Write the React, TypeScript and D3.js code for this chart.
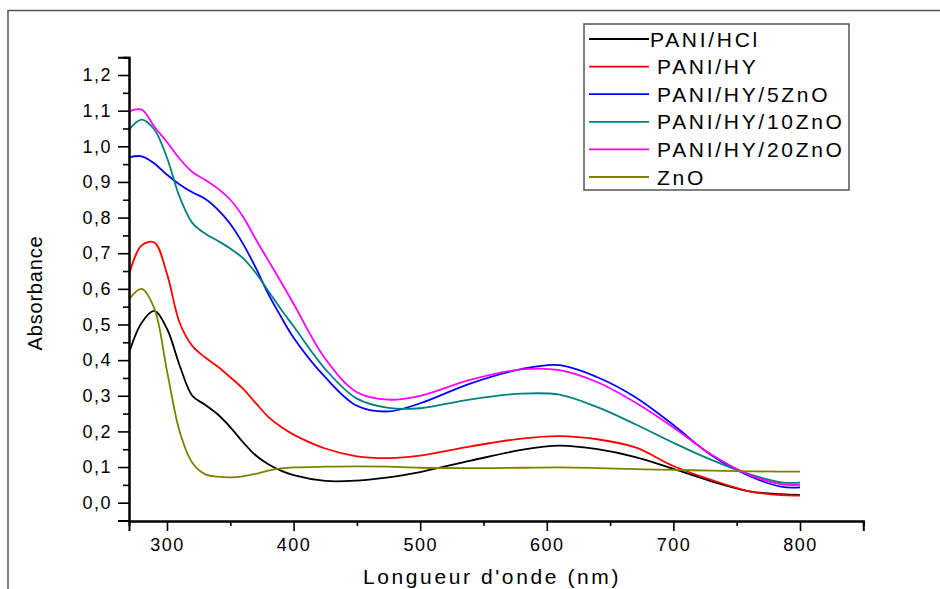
import React, { useRef, useEffect } from "react";
import * as d3 from "d3";

// wavelength (nm) shared by all spectra
const wavelengths = [270, 280, 290, 300, 310, 320, 330, 340, 350, 360, 370, 380, 390, 400, 425, 450, 475, 500, 540, 580, 610, 640, 670, 700, 730, 760, 785, 800];

const paniHCl = [0.42, 0.505, 0.538, 0.488, 0.385, 0.3, 0.275, 0.248, 0.212, 0.17, 0.133, 0.108, 0.09, 0.077, 0.061, 0.062, 0.071, 0.086, 0.118, 0.148, 0.16, 0.15, 0.128, 0.095, 0.06, 0.032, 0.024, 0.022];
const paniHY = [0.64, 0.722, 0.73, 0.642, 0.505, 0.44, 0.408, 0.382, 0.352, 0.32, 0.28, 0.241, 0.213, 0.191, 0.152, 0.13, 0.125, 0.132, 0.158, 0.18, 0.187, 0.178, 0.155, 0.103, 0.064, 0.032, 0.021, 0.02];
const paniHY5ZnO = [0.969, 0.972, 0.952, 0.92, 0.893, 0.871, 0.853, 0.823, 0.782, 0.727, 0.66, 0.586, 0.522, 0.463, 0.352, 0.272, 0.256, 0.279, 0.335, 0.375, 0.386, 0.352, 0.296, 0.218, 0.133, 0.075, 0.045, 0.043];
const paniHY10ZnO = [1.047, 1.075, 1.047, 0.968, 0.858, 0.785, 0.755, 0.735, 0.713, 0.686, 0.645, 0.594, 0.543, 0.495, 0.375, 0.292, 0.266, 0.265, 0.29, 0.306, 0.303, 0.268, 0.22, 0.168, 0.12, 0.08, 0.057, 0.056];
const paniHY20ZnO = [1.098, 1.103, 1.055, 1.012, 0.965, 0.928, 0.906, 0.882, 0.85, 0.803, 0.74, 0.68, 0.62, 0.558, 0.404, 0.31, 0.289, 0.3, 0.345, 0.374, 0.372, 0.338, 0.281, 0.211, 0.135, 0.078, 0.052, 0.05];
const znO = [0.571, 0.6, 0.545, 0.37, 0.2, 0.112, 0.08, 0.073, 0.071, 0.074, 0.081, 0.09, 0.096, 0.099, 0.101, 0.102, 0.101, 0.098, 0.097, 0.098, 0.099, 0.097, 0.094, 0.092, 0.09, 0.088, 0.087, 0.087];

const seriesNames = ["PANI/HCl", "PANI/HY", "PANI/HY/5ZnO", "PANI/HY/10ZnO", "PANI/HY/20ZnO", "ZnO"];
const seriesValues = [paniHCl, paniHY, paniHY5ZnO, paniHY10ZnO, paniHY20ZnO, znO];
const colors = ["#000000", "#ff0000", "#0000ff", "#008080", "#ff00ff", "#808000"];

const xMajor = [300, 400, 500, 600, 700, 800];
const xMinor = [350, 450, 550, 650, 750, 850];
const yMajor = [0, 0.1, 0.2, 0.3, 0.4, 0.5, 0.6, 0.7, 0.8, 0.9, 1.0, 1.1, 1.2];
const yMinor = [0.05, 0.15, 0.25, 0.35, 0.45, 0.55, 0.65, 0.75, 0.85, 0.95, 1.05, 1.15, 1.25];

const W = 940;
const H = 589;

const App = () => {
  const ref = useRef(null);

  useEffect(() => {
    const svg = d3.select(ref.current);
    svg.selectAll("*").remove();

    const x = d3.scaleLinear().domain([270, 850]).range([129, 863.3]);
    const y = d3.scaleLinear().domain([-0.05, 1.25]).range([520.5, 57.2]);
    const font = "Arial, 'Liberation Sans', sans-serif";

    // outer frame
    svg.append("rect")
      .attr("x", 8).attr("y", 10.5)
      .attr("width", W).attr("height", H)
      .attr("fill", "none").attr("stroke", "#555").attr("stroke-width", 1.5);

    // curves
    const line = d3.line()
      .x((d) => x(d[0]))
      .y((d) => y(d[1]))
      .curve(d3.curveCatmullRom.alpha(0.5));

    const plot = svg.append("g");
    seriesValues.forEach((vals, i) => {
      plot.append("path")
        .attr("d", line(wavelengths.map((w, j) => [w, vals[j]])))
        .attr("fill", "none")
        .attr("stroke", colors[i])
        .attr("stroke-width", 1.8);
    });

    const fmt = (d) => d.toFixed(1).replace(".", ",");

    // y axis
    const yAxis = svg.append("g").attr("transform", "translate(129,0)");
    yAxis.call(d3.axisLeft(y).tickValues(yMajor).tickSize(11).tickPadding(6).tickFormat(fmt));
    yAxis.append("g").call(d3.axisLeft(y).tickValues(yMinor).tickSize(6).tickFormat(() => ""));
    yAxis.selectAll(".domain").attr("stroke-width", 2).attr("stroke", "#000");
    yAxis.selectAll(".tick line").attr("stroke-width", 1.6).attr("stroke", "#000");
    yAxis.selectAll("text")
      .attr("font-family", font).attr("font-size", 18)
      .attr("letter-spacing", 1.5).attr("fill", "#000");

    // x axis
    const xAxis = svg.append("g").attr("transform", "translate(0,521)");
    xAxis.call(d3.axisBottom(x).tickValues(xMajor).tickSize(10).tickPadding(7).tickFormat(d3.format("d")));
    xAxis.append("g").call(d3.axisBottom(x).tickValues(xMinor).tickSize(5).tickFormat(() => ""));
    xAxis.selectAll(".domain").attr("stroke-width", 2).attr("stroke", "#000");
    xAxis.selectAll(".tick line").attr("stroke-width", 1.6).attr("stroke", "#000");
    xAxis.selectAll("text")
      .attr("font-family", font).attr("font-size", 18)
      .attr("letter-spacing", 1.5).attr("fill", "#000");

    // axis titles
    svg.append("text")
      .attr("x", 492).attr("y", 584)
      .attr("text-anchor", "middle")
      .attr("font-family", font).attr("font-size", 21)
      .attr("letter-spacing", 2.6)
      .text("Longueur d'onde (nm)");

    svg.append("text")
      .attr("transform", "translate(42,293) rotate(-90)")
      .attr("text-anchor", "middle")
      .attr("font-family", font).attr("font-size", 20)
      .attr("letter-spacing", 0.8)
      .text("Absorbance");

    // legend
    const legend = svg.append("g");
    legend.append("rect")
      .attr("x", 584).attr("y", 24)
      .attr("width", 265).attr("height", 166)
      .attr("fill", "#fff").attr("stroke", "#555").attr("stroke-width", 1.5);
    seriesNames.forEach((name, i) => {
      const ly = 39 + i * 27.6;
      legend.append("line")
        .attr("x1", 589).attr("x2", 649)
        .attr("y1", ly).attr("y2", ly)
        .attr("stroke", colors[i]).attr("stroke-width", 1.8);
      legend.append("text")
        .attr("x", i === 0 ? 650 : 657).attr("y", ly + 7.5)
        .attr("font-family", font).attr("font-size", 21)
        .attr("letter-spacing", 2.7)
        .text(name);
    });
  }, []);

  return (
    <div style={{ position: "absolute", left: 0, top: 0 }}>
      <svg ref={ref} width={W} height={H} style={{ display: "block", background: "#fff" }} />
    </div>
  );
};

export default App;
